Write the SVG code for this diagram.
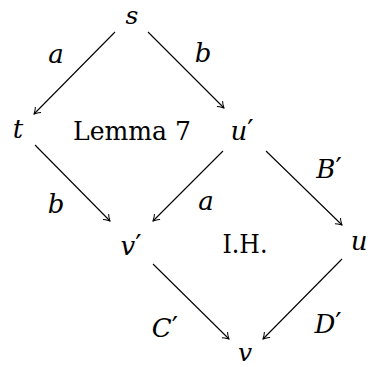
<svg xmlns="http://www.w3.org/2000/svg" width="371" height="367" viewBox="0 0 371 367">
<style>
.p{font-style:normal;font-size:28px}
</style>
<defs>
<marker id="ar" markerUnits="userSpaceOnUse" markerWidth="14" markerHeight="14" viewBox="-8 -7 10 14" refX="0" refY="0" orient="auto">
<path d="M-6,-4 C-4,-2 -1,-0.6 0,0 C-1,0.6 -4,2 -6,4" stroke="#000" stroke-width="1" fill="none"/>
</marker>
</defs>
<g id="connectors" stroke="#000" stroke-width="1.1" fill="none" marker-end="url(#ar)">
<line x1="115" y1="32" x2="34" y2="114"/>
<line x1="148" y1="32" x2="224" y2="108"/>
<line x1="35" y1="145" x2="110" y2="221"/>
<line x1="223" y1="151" x2="153" y2="221"/>
<line x1="266" y1="151" x2="342" y2="225"/>
<line x1="153" y1="264" x2="229" y2="339"/>
<line x1="342" y1="259" x2="263" y2="339"/>
</g>
<g font-family="DejaVu Serif, serif" font-size="26" text-anchor="middle" fill="#000">
<g id="labels" font-style="italic">
<text x="56" y="63">a</text>
<text x="203" y="62">b</text>
<text x="56" y="213">b</text>
<text x="206" y="210">a</text>
<text x="329" y="178">B<tspan class="p">′</tspan></text>
<text x="165" y="337">C<tspan class="p">′</tspan></text>
<text x="328" y="333">D<tspan class="p">′</tspan></text>
</g>
<g id="s" font-style="italic"><text x="132" y="24" font-size="25">s</text></g>
<g id="t" font-style="italic"><text x="18" y="138">t</text></g>
<g id="u1" font-style="italic"><text x="242" y="140">u<tspan class="p">′</tspan></text></g>
<g id="v1" font-style="italic"><text x="131" y="255">v<tspan class="p">′</tspan></text></g>
<g id="u" font-style="italic"><text x="359" y="250">u</text></g>
<g id="v" font-style="italic"><text x="245" y="361" font-size="25">v</text></g>
<g id="lemma"><text x="132" y="140" textLength="118" lengthAdjust="spacingAndGlyphs">Lemma 7</text></g>
<g id="ih"><text x="245" y="253" textLength="45" lengthAdjust="spacingAndGlyphs">I.H.</text></g>
</g>
</svg>
